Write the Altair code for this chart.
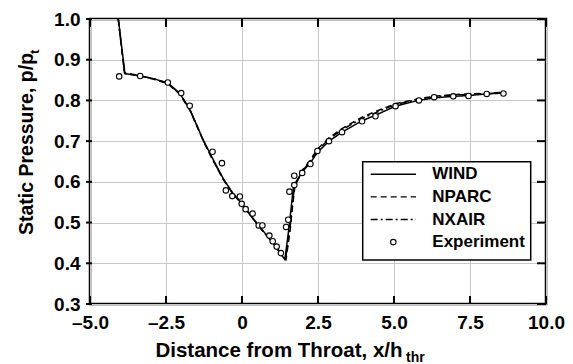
import altair as alt
import pandas as pd

# ---- data ----
series_names = ["WIND", "NPARC", "NXAIR", "Experiment"]
line_series = ["WIND", "NPARC", "NXAIR"]

wind_x = [-4.07, -3.85, -3.36, -2.9, -2.44, -2.04, -1.7, -1.27, -0.95, -0.61, -0.3, 0.0, 0.5, 1.0,
          1.41, 1.55, 1.63, 1.69, 1.80, 2.0, 2.25, 2.48, 2.86, 3.29, 3.95, 4.4, 5.05, 5.8, 6.3,
          6.95, 7.45, 8.05, 8.6]
wind_y = [1.0, 0.866, 0.860, 0.853, 0.843, 0.817, 0.775, 0.702, 0.655, 0.607, 0.572, 0.546, 0.497,
          0.452, 0.409, 0.49, 0.546, 0.587, 0.603, 0.626, 0.647, 0.672, 0.700, 0.722, 0.750, 0.764,
          0.786, 0.800, 0.806, 0.810, 0.812, 0.816, 0.818]

nparc_x = [-4.07, -3.87, -3.36, -2.9, -2.44, -2.04, -1.7, -1.27, -0.95, -0.61, -0.3, 0.0, 0.5, 1.0,
           1.45, 1.58, 1.67, 1.74, 1.85, 2.0, 2.25, 2.48, 2.86, 3.29, 3.95, 4.4, 5.05, 5.8, 6.3,
           6.95, 7.45, 8.05, 8.6]
nparc_y = [1.0, 0.868, 0.861, 0.852, 0.841, 0.815, 0.774, 0.700, 0.652, 0.605, 0.571, 0.545, 0.496,
           0.451, 0.410, 0.48, 0.545, 0.588, 0.607, 0.630, 0.654, 0.680, 0.708, 0.731, 0.759, 0.773,
           0.792, 0.804, 0.810, 0.814, 0.816, 0.818, 0.820]

nxair_x = [-4.07, -3.86, -3.36, -2.9, -2.44, -2.04, -1.7, -1.27, -0.95, -0.61, -0.3, 0.0, 0.5, 1.0,
           1.43, 1.57, 1.66, 1.72, 1.83, 2.0, 2.25, 2.48, 2.86, 3.29, 3.95, 4.4, 5.05, 5.8, 6.3,
           6.95, 7.45, 8.05, 8.6]
nxair_y = [1.0, 0.866, 0.861, 0.853, 0.842, 0.816, 0.775, 0.701, 0.653, 0.606, 0.571, 0.545, 0.496,
           0.451, 0.410, 0.48, 0.545, 0.586, 0.604, 0.628, 0.651, 0.677, 0.705, 0.728, 0.756, 0.770,
           0.790, 0.803, 0.809, 0.813, 0.815, 0.817, 0.819]

exp_x = [-4.04, -3.35, -2.44, -2.0, -1.72, -0.97, -0.66, -0.53, -0.32, -0.07, -0.01, 0.12, 0.35,
         0.55, 0.67, 0.90, 1.01, 1.14, 1.28, 1.45, 1.52, 1.56, 1.72, 1.72, 1.98, 2.25, 2.48, 2.86,
         3.29, 3.95, 4.39, 5.05, 5.82, 6.32, 6.95, 7.45, 8.05, 8.60]
exp_y = [0.859, 0.860, 0.844, 0.818, 0.787, 0.674, 0.646, 0.579, 0.565, 0.564, 0.546, 0.533, 0.522,
         0.493, 0.493, 0.468, 0.454, 0.441, 0.425, 0.489, 0.507, 0.576, 0.592, 0.615, 0.622, 0.644,
         0.676, 0.700, 0.722, 0.749, 0.761, 0.786, 0.800, 0.808, 0.810, 0.811, 0.816, 0.817]

x_ticks = [-5.0, -2.5, 0.0, 2.5, 5.0, 7.5, 10.0]
y_ticks = [0.3, 0.4, 0.5, 0.6, 0.7, 0.8, 0.9, 1.0]

x_title = "Distance from Throat, x/h"
x_title_sub = "thr"
y_title = "Static Pressure, p/p"
y_title_sub = "t"

# ---- tables ----
lines = pd.concat([
    pd.DataFrame({"x": wind_x, "y": wind_y, "series": "WIND"}),
    pd.DataFrame({"x": nparc_x, "y": nparc_y, "series": "NPARC"}),
    pd.DataFrame({"x": nxair_x, "y": nxair_y, "series": "NXAIR"}),
], ignore_index=True)
lines["order"] = lines.index
points = pd.DataFrame({"x": exp_x, "y": exp_y, "series": "Experiment"})
xt = pd.DataFrame({"v": x_ticks})
yt = pd.DataFrame({"v": y_ticks})
legend_df = pd.DataFrame({"series": series_names})

W, H = 456, 285
FONT = "Liberation Sans"
PT_SIZE = 30
TICK_FS = 19

xscale = alt.Scale(domain=[-5, 10], nice=False, zero=False)
yscale = alt.Scale(domain=[0.3, 1.0], nice=False, zero=False)
dash_scale = alt.Scale(domain=series_names, range=[[1, 0], [6, 4], [7, 3, 2, 3], [1, 0]])
# legend rows: a point scale mapping the entries to rows inside the legend box
legend_rows = alt.Scale(type="point", domain=series_names, range=[155.3, 223.1], padding=0)

xaxis = alt.Axis(values=x_ticks, title=None, grid=True, gridColor="#c8c8c8", gridWidth=1,
                 ticks=False, tickSize=0, domain=False, labelFont=FONT, labelFontSize=TICK_FS,
                 labelFontWeight="bold", labelColor="black", labelPadding=9, labelFlush=False,
                 labelOverlap=False,
                 labelExpr="datum.value == 0 ? '0' : (datum.value < 0 ? '\u2013' + format(-datum.value, '.1f') : format(datum.value, '.1f'))")
yaxis = alt.Axis(values=y_ticks, title=None, grid=True, gridColor="#c8c8c8", gridWidth=1,
                 ticks=False, tickSize=0, domain=False, labelFont=FONT, labelFontSize=TICK_FS,
                 labelFontWeight="bold", labelColor="black", labelPadding=10, format=".1f",
                 labelOverlap=False, labelFlush=False)

line_layer = alt.Chart(lines).mark_line(color="black", strokeWidth=1.5, clip=True).encode(
    x=alt.X("x:Q", scale=xscale, axis=xaxis),
    y=alt.Y("y:Q", scale=yscale, axis=yaxis),
    strokeDash=alt.StrokeDash("series:N", scale=dash_scale, legend=None),
    order="order:Q",
)

point_layer = alt.Chart(points).mark_point(shape="circle", filled=False, fill="white",
                                           fillOpacity=1, stroke="black", strokeWidth=1.1,
                                           opacity=1, size=PT_SIZE).encode(
    x=alt.X("x:Q", scale=xscale),
    y=alt.Y("y:Q", scale=yscale, axis=None),
)

tw = 2
bottom_ticks = alt.Chart(xt).mark_rule(color="black", strokeWidth=tw).encode(
    x=alt.X("v:Q", scale=xscale), y=alt.value(H), y2=alt.value(H - 8))
top_ticks = alt.Chart(xt).mark_rule(color="black", strokeWidth=tw).encode(
    x=alt.X("v:Q", scale=xscale), y=alt.value(0), y2=alt.value(8))
left_ticks = alt.Chart(yt).mark_rule(color="black", strokeWidth=tw).encode(
    y=alt.Y("v:Q", scale=yscale, axis=None), x=alt.value(-4), x2=alt.value(2))
right_ticks = alt.Chart(yt).mark_rule(color="black", strokeWidth=tw).encode(
    y=alt.Y("v:Q", scale=yscale, axis=None), x=alt.value(W), x2=alt.value(W - 9))

# ---- legend ----
leg_box = alt.Chart(pd.DataFrame({"series": ["box"]})).mark_rect(
    fill="white", stroke="black", strokeWidth=1.5).encode(
    x=alt.value(272.7), x2=alt.value(440.7), y=alt.value(142.7), y2=alt.value(241))
leg_lines = alt.Chart(legend_df).transform_filter(
    alt.FieldOneOfPredicate(field="series", oneOf=line_series)).mark_rule(
    color="black", strokeWidth=1.4).encode(
    y=alt.Y("series:N", scale=legend_rows, axis=None),
    x=alt.value(280.7), x2=alt.value(326),
    strokeDash=alt.StrokeDash("series:N", scale=dash_scale, legend=None),
)
leg_pt = alt.Chart(legend_df).transform_filter(
    alt.datum.series == "Experiment").mark_point(
    shape="circle", filled=False, fill="white", fillOpacity=1, stroke="black",
    strokeWidth=1.1, size=PT_SIZE).encode(
    y=alt.Y("series:N", scale=legend_rows, axis=None),
    x=alt.value(303.3),
)
leg_text = alt.Chart(legend_df).mark_text(
    font=FONT, fontSize=17, fontWeight="bold", color="black", align="left",
    baseline="middle").encode(
    y=alt.Y("series:N", scale=legend_rows, axis=None),
    x=alt.value(342.3), text="series:N",
)

# ---- axis titles with subscripts ----
xt_text = alt.Chart(pd.DataFrame({"t": [x_title]})).mark_text(
    font=FONT, fontSize=20.5, fontWeight="bold", color="black", align="center",
    baseline="alphabetic").encode(text="t:N", x=alt.value(189), y=alt.value(338))
xt_sub = alt.Chart(pd.DataFrame({"t": [x_title_sub]})).mark_text(
    font=FONT, fontSize=14, fontWeight="bold", color="black", align="left",
    baseline="alphabetic").encode(text="t:N", x=alt.value(316), y=alt.value(343))
yt_text = alt.Chart(pd.DataFrame({"t": [y_title]})).mark_text(
    font=FONT, fontSize=19.5, fontWeight="bold", color="black", align="center",
    baseline="alphabetic", angle=270).encode(text="t:N", x=alt.value(-57), y=alt.value(125))
yt_sub = alt.Chart(pd.DataFrame({"t": [y_title_sub]})).mark_text(
    font=FONT, fontSize=13, fontWeight="bold", color="black", align="left",
    baseline="alphabetic", angle=270).encode(text="t:N", x=alt.value(-51), y=alt.value(35))

chart = alt.layer(
    line_layer, point_layer, bottom_ticks, top_ticks, left_ticks, right_ticks,
    leg_box, leg_lines, leg_pt, leg_text,
    xt_text, xt_sub, yt_text, yt_sub,
).resolve_scale(y="independent").properties(
    width=W, height=H,
    autosize=alt.AutoSizeParams(type="none"),
    padding={"left": 82, "top": 11, "right": 19, "bottom": 60},
    background="white",
).configure_view(stroke="black", strokeWidth=2.5)

chart.save("out.html", embed_options={"renderer": "svg", "actions": False})
